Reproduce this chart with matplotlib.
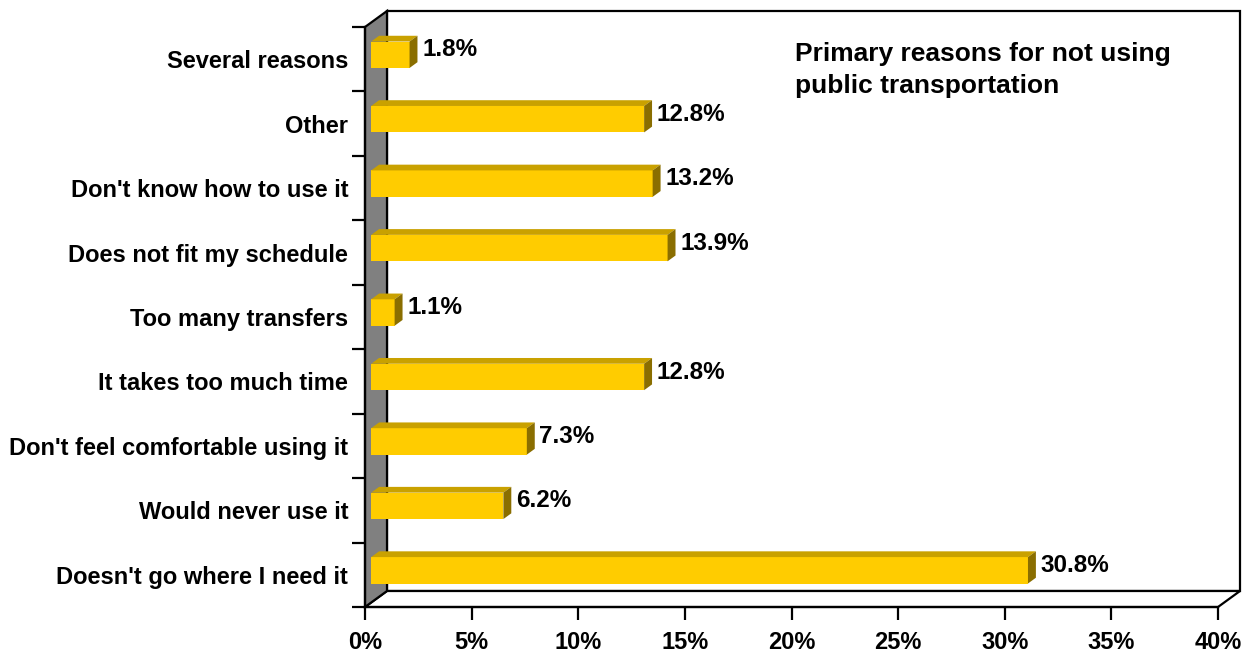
import numpy as np
import matplotlib
matplotlib.use("Agg")
import matplotlib.pyplot as plt
from matplotlib.patches import Polygon, Rectangle

plt.rcParams['font.family'] = ['Liberation Sans', 'DejaVu Sans']
plt.rcParams['font.weight'] = 'bold'

# survey answers, bottom to top
reasons = ["Doesn't go where I need it", "Would never use it",
           "Don't feel comfortable using it", "It takes too much time",
           "Too many transfers", "Does not fit my schedule",
           "Don't know how to use it", "Other", "Several reasons"]
shares = [30.8, 6.2, 7.3, 12.8, 1.1, 13.9, 13.2, 12.8, 1.8]
xticks_pct = [0, 5, 10, 15, 20, 25, 30, 35, 40]

W, H = 1250, 665
fig = plt.figure(figsize=(W / 100, H / 100), dpi=100)
# front plane of the 3d box, in pixels
left, right, top, bottom = 365, 1218, 27, 607
ax = fig.add_axes([left / W, (H - bottom) / H, (right - left) / W, (bottom - top) / H])
xmax = 40
n = len(reasons)
ax.set_xlim(0, xmax)
ax.set_ylim(-0.5, n - 0.5)

# depth of the box (pixels) converted to data units
dpx, dpy = 22, 16
ddx = dpx * xmax / (right - left)
ddy = dpy * n / (bottom - top)

lw = 1.6
y0, y1 = -0.5, n - 0.5
# back wall
ax.add_patch(Rectangle((ddx, y0 + ddy), xmax, n, facecolor='white',
                       edgecolor='black', lw=lw, zorder=0, clip_on=False))
# floor
ax.add_patch(Polygon([(0, y0), (xmax, y0), (xmax + ddx, y0 + ddy), (ddx, y0 + ddy)],
                     closed=True, facecolor='white', edgecolor='black', lw=lw,
                     zorder=1, clip_on=False))
# side wall
ax.add_patch(Polygon([(0, y0), (0, y1), (ddx, y1 + ddy), (ddx, y0 + ddy)],
                     closed=True, facecolor='#808080', edgecolor='black', lw=lw,
                     zorder=1, clip_on=False))

# bars: front face at depth t0, back at t1
t0, t1 = 0.28, 0.64
bh = 0.41
ys = np.arange(n)
fx, fy = t0 * ddx, t0 * ddy
bx, by = (t1 - t0) * ddx, (t1 - t0) * ddy
ax.barh(ys + fy, shares, height=bh, left=fx, color='#FFCC00',
        edgecolor='none', zorder=3, clip_on=False)
for y, v in zip(ys, shares):
    yt = y + fy + bh / 2
    yb = y + fy - bh / 2
    xe = fx + v
    ax.add_patch(Polygon([(fx, yt), (xe, yt), (xe + bx, yt + by), (fx + bx, yt + by)],
                         closed=True, facecolor='#C9A100', edgecolor='none',
                         zorder=3, clip_on=False))
    ax.add_patch(Polygon([(xe, yb), (xe, yt), (xe + bx, yt + by), (xe + bx, yb + by)],
                         closed=True, facecolor='#8A6E00', edgecolor='none',
                         zorder=3, clip_on=False))
    ax.annotate(f"{v:.1f}%", (xe, y + fy), xytext=(9, 3.5),
                textcoords='offset points', ha='left', va='center',
                fontsize=17.5, fontweight='bold', zorder=4)

# front edges and ticks
for s in ['top', 'right']:
    ax.spines[s].set_visible(False)
for s in ['left', 'bottom']:
    ax.spines[s].set_linewidth(lw)
    ax.spines[s].set_zorder(5)
ax.set_facecolor('none')

ax.set_xticks(xticks_pct)
ax.set_xticklabels([f"{t}%" for t in xticks_pct], fontsize=17, fontweight='bold')
ax.tick_params(axis='x', which='major', direction='out', length=9.5, width=lw, pad=8)

ax.set_yticks(np.arange(n + 1) - 0.5)
ax.set_yticklabels([])
ax.set_yticks(ys, minor=True)
ax.set_yticklabels(reasons, minor=True, fontsize=17, fontweight='bold')
ax.tick_params(axis='y', which='major', direction='out', length=9.5, width=lw)
ax.tick_params(axis='y', which='minor', length=0, pad=12)

fig.text(795 / W, 1 - 42 / H, "Primary reasons for not using\npublic transportation",
         ha='left', va='top', fontsize=19, fontweight='bold', linespacing=1.4)

fig.savefig("out.png", dpi=100, facecolor='white')
